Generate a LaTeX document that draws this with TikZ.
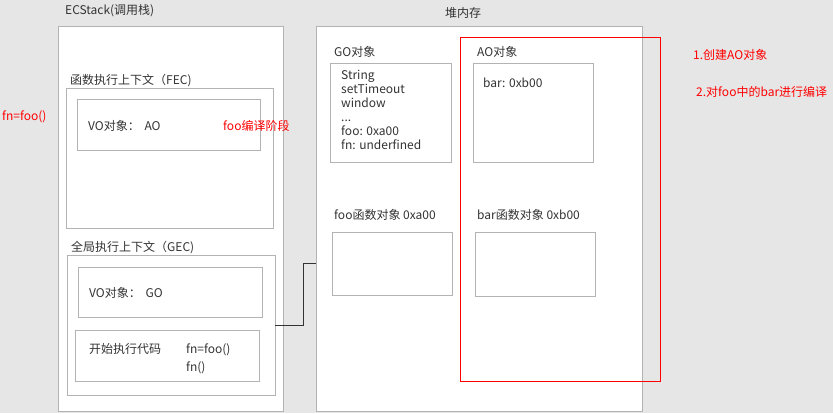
\documentclass[tikz,border=0pt]{standalone}
\usepackage{fontspec}
\setmainfont{Noto Sans CJK SC}
\definecolor{bggray}{HTML}{E6E6E6}
\definecolor{linegray}{HTML}{B3B3B3}
\definecolor{txtgray}{HTML}{333333}
\definecolor{notered}{HTML}{FF0000}
\begin{document}
\begin{tikzpicture}[x=1pt,y=-1pt,
  box/.style={draw=linegray,fill=white,line width=1pt,inner sep=0pt,outer sep=0pt,anchor=north west},
  lbl/.style={anchor=base west,inner sep=0pt,text=txtgray,font=\fontsize{12}{14}\selectfont},
  note/.style={lbl,text=notered}]
\fill[bggray] (0,0) rectangle (833,413);
\useasboundingbox (0,0) rectangle (833,413);
% call stack
\node[box,minimum width=225pt,minimum height=385pt] (ec) at (58,26) {};
\node[lbl] (ectitle) at (65,14) {ECStack(调用栈)};
\node[box,minimum width=207pt,minimum height=140pt] (fec) at (66,88) {};
\node[lbl] (fectitle) at (70,84) {函数执行上下文（FEC)};
\node[box,minimum width=183pt,minimum height=51pt] (vofec) at (77,99) {};
\node[lbl] (votext1) at (88,130) {VO对象：\ \,AO};
\node[note] (compile) at (223,130) {foo编译阶段};
\node[note] (fncall) at (2,120) {fn=foo()};
\node[box,minimum width=208pt,minimum height=140pt] (gec) at (67,255) {};
\node[lbl] (gectitle) at (71,251) {全局执行上下文（GEC)};
\node[box,minimum width=184pt,minimum height=50pt] (vogec) at (78,267) {};
\node[lbl] (votext2) at (89,297) {VO对象：\ \,GO};
\node[box,minimum width=184pt,minimum height=51pt] (code) at (75,330) {};
\node[lbl] (codetext) at (89,353) {开始执行代码};
\node[lbl] (line1) at (186,353) {fn=foo()};
\node[lbl] (line2) at (186,371) {fn()};
% heap
\node[box,minimum width=326pt,minimum height=385pt] (heap) at (316,26) {};
\node[lbl] (heaptitle) at (445,17) {堆内存};
\node[lbl] (gotitle) at (334,56) {GO对象};
\node[box,minimum width=121pt,minimum height=99pt] (gobox) at (330,63) {};
\node[lbl,align=left,anchor=north west,font=\fontsize{12}{13.9}\selectfont] (golist) at (341,70) {String\\setTimeout\\window\\...\\foo: 0xa00\\fn: underfined};
\node[lbl] (aotitle) at (477,56) {AO对象};
\node[box,minimum width=120pt,minimum height=99pt] (aobox) at (473,63) {};
\node[lbl] (aotext) at (483,87) {bar: 0xb00};
\node[lbl] (footitle) at (334,219) {foo函数对象 0xa00};
\node[box,minimum width=120pt,minimum height=63pt] (foobox) at (332,232) {};
\node[lbl] (bartitle) at (477,219) {bar函数对象 0xb00};
\node[box,minimum width=120pt,minimum height=64pt] (barbox) at (475,232) {};
\node[draw=notered,line width=1pt,inner sep=0pt,outer sep=0pt,anchor=north west,minimum width=200pt,minimum height=344pt] (aoarea) at (460,37) {};
\node[note] (step1) at (693,59) {1.创建AO对象};
\node[note] (step2) at (696,96) {2.对foo中的bar进行编译};
% link
\coordinate (link) at (316,263);
\draw[txtgray,line width=1pt] (gec.east) -- ++(28,0) |- (link);
\end{tikzpicture}
\end{document}
